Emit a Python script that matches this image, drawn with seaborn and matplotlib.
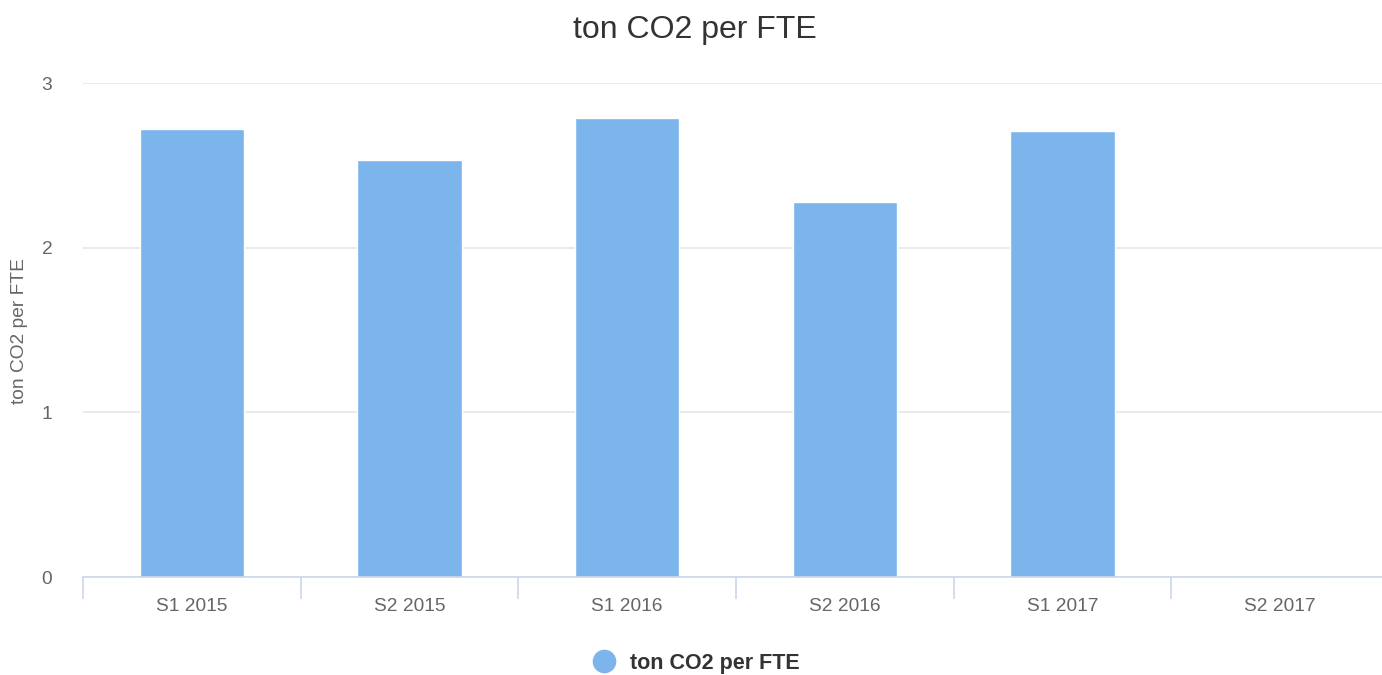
import pandas as pd
import seaborn as sns
import matplotlib.pyplot as plt
from matplotlib.lines import Line2D

# values
periods = ["S1 2015", "S2 2015", "S1 2016", "S2 2016", "S1 2017", "S2 2017"]
co2_per_fte = [2.72, 2.53, 2.79, 2.28, 2.71, 0.0]
y_ticks = [0, 1, 2, 3]

df = pd.DataFrame({"period": periods, "value": co2_per_fte})

sns.set_style("white")
plt.rcParams["font.family"] = ["Liberation Sans", "DejaVu Sans"]

fig = plt.figure(figsize=(13.82, 6.75), dpi=100)
# plot area in pixels: left 83, right ~1389, top 83 (y=3), bottom 577 (y=0)
ax = fig.add_axes([83 / 1382, (675 - 577) / 675, (1389 - 83) / 1382, (577 - 83) / 675])

sns.barplot(data=df, x="period", y="value", color="#7cb5ec", saturation=1,
            width=0.48, ax=ax, zorder=3)

ax.set_xlim(-0.5, 5.5)
ax.set_ylim(0, 3)
ax.set_yticks(y_ticks)
ax.yaxis.grid(True, color="#e6e6e6", linewidth=1.2, zorder=0)
ax.set_axisbelow(True)

for s in ["top", "right", "left"]:
    ax.spines[s].set_visible(False)
ax.spines["bottom"].set_color("#ccd6eb")
ax.spines["bottom"].set_linewidth(1.2)
ax.spines["bottom"].set_zorder(4)

# category boundary ticks like the original
ax.set_xticks([i - 0.5 for i in range(len(periods) + 1)], minor=True)
ax.tick_params(axis="x", which="minor", bottom=True, length=16, color="#ccd6eb", width=1.2)
ax.tick_params(axis="x", which="major", length=0, pad=15, labelsize=13.8, labelcolor="#666666")
ax.tick_params(axis="y", length=0, pad=26, labelsize=13.8, labelcolor="#666666")
for lbl in ax.get_yticklabels():
    lbl.set_horizontalalignment("center")

ax.set_xlabel("")
ax.set_ylabel("")
fig.text(20 / 1382, 1 - 331 / 675, "ton CO2 per FTE", rotation=90, ha="center",
         va="center", fontsize=13.8, color="#666666")

fig.text(695 / 1382, 1 - 30 / 675, "ton CO2 per FTE", ha="center", va="center",
         fontsize=23, color="#333333")

handle = Line2D([0], [0], marker="o", linestyle="", markersize=16,
                markerfacecolor="#7cb5ec", markeredgecolor="#7cb5ec")
leg = fig.legend([handle], ["ton CO2 per FTE"], loc="center",
                 bbox_to_anchor=(0.5, 1 - 663 / 675), frameon=False,
                 handletextpad=0.2, prop={"weight": "bold", "size": 15.5})
for t in leg.get_texts():
    t.set_color("#333333")

fig.savefig("out.png", dpi=100)
